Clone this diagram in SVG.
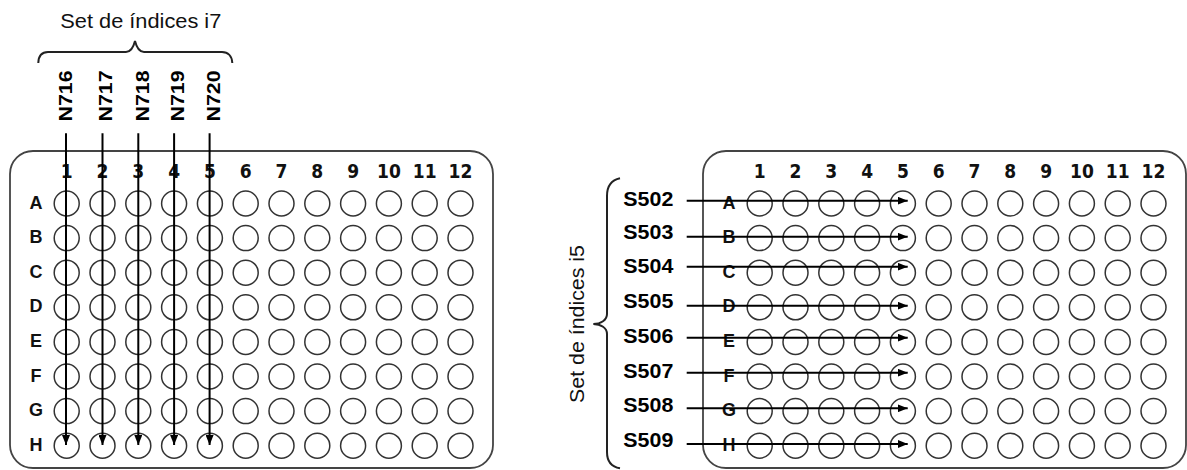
<svg xmlns="http://www.w3.org/2000/svg" xmlns:xlink="http://www.w3.org/1999/xlink" width="1187" height="470" viewBox="0 0 1187 470">
<style>
.plate{fill:#fff;stroke:#444;stroke-width:1.8}
.well{fill:none;stroke:#333;stroke-width:1.5}
.brace{fill:none;stroke:#222;stroke-width:2}
.title{font-family:"Liberation Sans",Arial,sans-serif;font-size:21px;fill:#111}
.idx{font-family:"Liberation Sans",Arial,sans-serif;font-size:20px;font-weight:bold;fill:#000}
.num{font-family:"Liberation Sans Narrow","Arial Narrow","DejaVu Sans Condensed",sans-serif;font-stretch:condensed;font-size:19px;font-weight:bold;fill:#111;text-anchor:middle}
.row{font-family:"Liberation Sans",Arial,sans-serif;font-size:18px;font-weight:bold;fill:#111;text-anchor:middle}
.arr{stroke:#000;stroke-width:2;fill:none;marker-end:url(#ah)}
</style>
<defs>
<marker id="ah" markerUnits="userSpaceOnUse" markerWidth="10" markerHeight="8" refX="10" refY="4" orient="auto">
<path d="M0,0 L10,4 L0,8 z" fill="#000"/>
</marker>
<g id="wellrow">
<circle class="well" cx="66.7" cy="0" r="12.5"/><circle class="well" cx="102.5" cy="0" r="12.5"/><circle class="well" cx="138.3" cy="0" r="12.5"/><circle class="well" cx="174.1" cy="0" r="12.5"/><circle class="well" cx="209.9" cy="0" r="12.5"/><circle class="well" cx="245.7" cy="0" r="12.5"/><circle class="well" cx="281.5" cy="0" r="12.5"/><circle class="well" cx="317.3" cy="0" r="12.5"/><circle class="well" cx="353.1" cy="0" r="12.5"/><circle class="well" cx="388.9" cy="0" r="12.5"/><circle class="well" cx="424.7" cy="0" r="12.5"/><circle class="well" cx="460.5" cy="0" r="12.5"/>
</g>
<g id="labels">
<text class="num" x="66.7" y="178.3">1</text><text class="num" x="102.5" y="178.3">2</text><text class="num" x="138.3" y="178.3">3</text><text class="num" x="174.1" y="178.3">4</text><text class="num" x="209.9" y="178.3">5</text><text class="num" x="245.7" y="178.3">6</text><text class="num" x="281.5" y="178.3">7</text><text class="num" x="317.3" y="178.3">8</text><text class="num" x="353.1" y="178.3">9</text><text class="num" x="388.9" y="178.3">10</text><text class="num" x="424.7" y="178.3">11</text><text class="num" x="460.5" y="178.3">12</text>
<text class="row" x="36" y="208.5">A</text><text class="row" x="36" y="243.1">B</text><text class="row" x="36" y="277.7">C</text><text class="row" x="36" y="312.3">D</text><text class="row" x="36" y="346.9">E</text><text class="row" x="36" y="381.5">F</text><text class="row" x="36" y="416.1">G</text><text class="row" x="36" y="450.7">H</text>
</g>
<g id="plateBody">
<rect class="plate" x="10" y="151" width="483" height="317" rx="23" ry="23"/>
<use xlink:href="#labels" href="#labels"/>
<use xlink:href="#wellrow" href="#wellrow" y="203.5"/>
<use xlink:href="#wellrow" href="#wellrow" y="238.1"/>
<use xlink:href="#wellrow" href="#wellrow" y="272.7"/>
<use xlink:href="#wellrow" href="#wellrow" y="307.3"/>
<use xlink:href="#wellrow" href="#wellrow" y="341.9"/>
<use xlink:href="#wellrow" href="#wellrow" y="376.5"/>
<use xlink:href="#wellrow" href="#wellrow" y="411.1"/>
<use xlink:href="#wellrow" href="#wellrow" y="445.7"/>
</g>
</defs>

<g id="plate-left">
<use xlink:href="#plateBody" href="#plateBody"/>
</g>
<g id="plate-right">
<use xlink:href="#plateBody" href="#plateBody" transform="translate(693,0)"/>
</g>

<g id="i7-set">
<text class="title" x="140.8" y="28" text-anchor="middle" textLength="161" lengthAdjust="spacingAndGlyphs">Set de índices i7</text>
<path class="brace" d="M38.3,63 C38.5,56 42,52 48,52 L126,52 C131,52 133.5,47 135,41 C136.5,47 139,52 144,52 L222,52 C228,52 232,56 232.3,63"/>
<text class="idx" transform="translate(71.7,96) rotate(-90)" text-anchor="middle" textLength="51" lengthAdjust="spacingAndGlyphs" style="font-size:18.5px">N716</text>
<text class="idx" transform="translate(111.7,96) rotate(-90)" text-anchor="middle" textLength="51" lengthAdjust="spacingAndGlyphs" style="font-size:18.5px">N717</text>
<text class="idx" transform="translate(149,96) rotate(-90)" text-anchor="middle" textLength="51" lengthAdjust="spacingAndGlyphs" style="font-size:18.5px">N718</text>
<text class="idx" transform="translate(184,96) rotate(-90)" text-anchor="middle" textLength="51" lengthAdjust="spacingAndGlyphs" style="font-size:18.5px">N719</text>
<text class="idx" transform="translate(220,96) rotate(-90)" text-anchor="middle" textLength="51" lengthAdjust="spacingAndGlyphs" style="font-size:18.5px">N720</text>
</g>

<g id="i5-set">
<text class="title" transform="translate(583.5,324) rotate(-90)" text-anchor="middle" textLength="158" lengthAdjust="spacingAndGlyphs">Set de índices i5</text>
<path class="brace" d="M620,178.3 C612,180 607,186 607,196 L607,314 C607,320 601,324 593.3,324 C601,324 607,328 607,334 L607,452 C607,462 612,467 620,468.3"/>
<text class="idx" x="623.3" y="205.7" textLength="50" lengthAdjust="spacingAndGlyphs">S502</text>
<text class="idx" x="623.3" y="239" textLength="50" lengthAdjust="spacingAndGlyphs">S503</text>
<text class="idx" x="623.3" y="273.3" textLength="50" lengthAdjust="spacingAndGlyphs">S504</text>
<text class="idx" x="623.3" y="308.3" textLength="50" lengthAdjust="spacingAndGlyphs">S505</text>
<text class="idx" x="623.3" y="343.3" textLength="50" lengthAdjust="spacingAndGlyphs">S506</text>
<text class="idx" x="623.3" y="378.3" textLength="50" lengthAdjust="spacingAndGlyphs">S507</text>
<text class="idx" x="623.3" y="412.3" textLength="50" lengthAdjust="spacingAndGlyphs">S508</text>
<text class="idx" x="623.3" y="446.7" textLength="50" lengthAdjust="spacingAndGlyphs">S509</text>
</g>

<g id="connectors">
<line class="arr" x1="66" y1="133.3" x2="66" y2="445"/>
<line class="arr" x1="102.5" y1="133.3" x2="102.5" y2="445"/>
<line class="arr" x1="138.3" y1="133.3" x2="138.3" y2="445"/>
<line class="arr" x1="174.1" y1="133.3" x2="174.1" y2="445"/>
<line class="arr" x1="209.6" y1="133.3" x2="209.6" y2="445"/>
<line class="arr" x1="686.7" y1="200.7" x2="907.7" y2="200.7"/>
<line class="arr" x1="686.7" y1="236.7" x2="907.7" y2="236.7"/>
<line class="arr" x1="686.7" y1="266.7" x2="907.7" y2="266.7"/>
<line class="arr" x1="686.7" y1="305.7" x2="907.7" y2="305.7"/>
<line class="arr" x1="686.7" y1="337.7" x2="907.7" y2="337.7"/>
<line class="arr" x1="686.7" y1="372.7" x2="907.7" y2="372.7"/>
<line class="arr" x1="686.7" y1="408.3" x2="907.7" y2="408.3"/>
<line class="arr" x1="686.7" y1="444" x2="907.7" y2="444"/>
</g>
</svg>
